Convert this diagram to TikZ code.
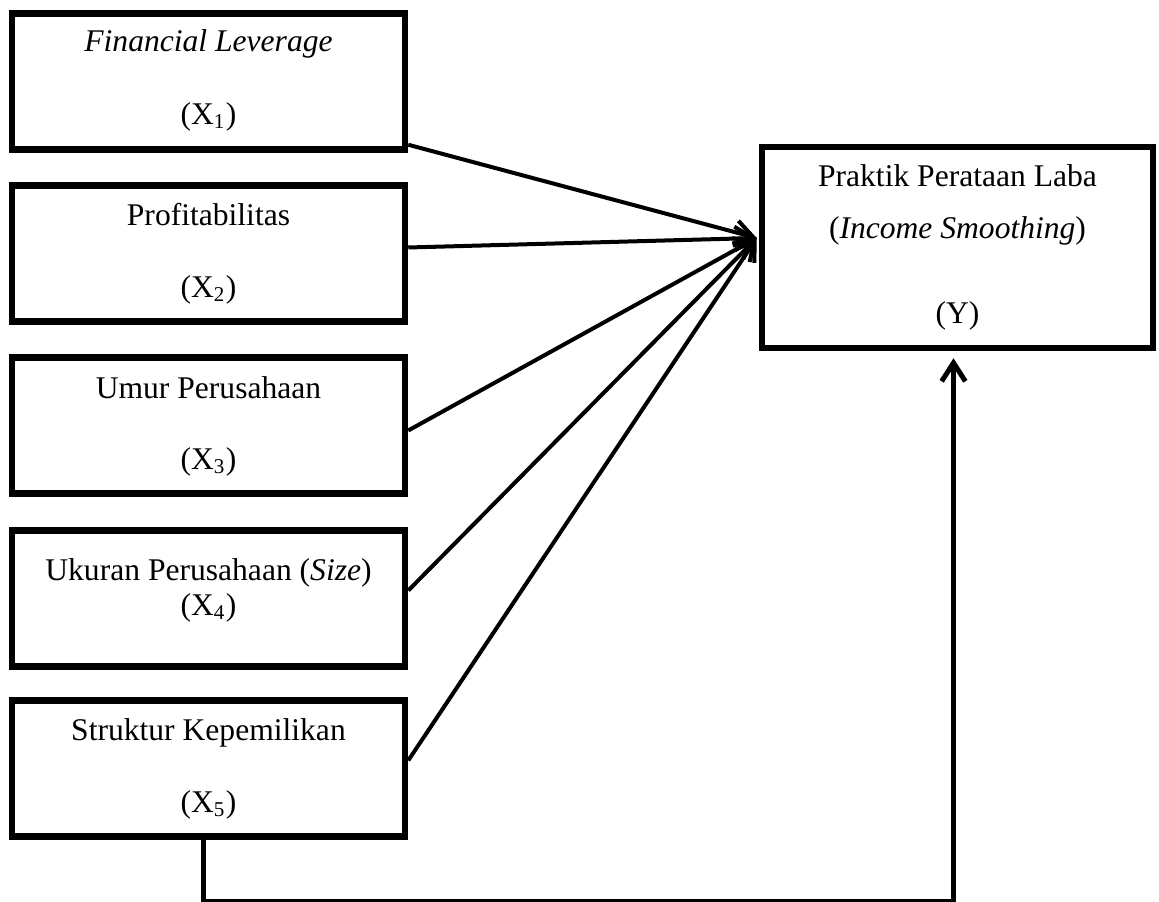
\documentclass[tikz,border=0pt]{standalone}
\usepackage{fontspec}
\setmainfont{Liberation Serif}
\usetikzlibrary{arrows.meta,calc,positioning}

\tikzset{
  varbox/.style={draw, line width=6.5*0.38pt, minimum width=393*0.38pt,
    minimum height=136*0.38pt, inner sep=0pt},
  laba box/.style={varbox, minimum width=391*0.38pt, minimum height=201*0.38pt},
  boxtext/.style={anchor=base, inner sep=0pt, font=\fontsize{12}{14}\selectfont},
  link/.style={line width=4*0.38pt, -{Straight Barb[length=7pt,width=9pt]}},
}

\begin{document}
\begin{tikzpicture}[x=0.38pt, y=-0.38pt]
\useasboundingbox (0,0) rectangle (1159,902);

% variabel independen
\node[varbox] (fl) at (208.5,81.5) {};
\node[varbox] (prof) at (208.5,253.5) {};
\node[varbox] (umur) at (208.5,425.5) {};
\node[varbox] (ukuran) at (208.5,598.5) {};
\node[varbox] (struktur) at (208.5,768.5) {};

% variabel dependen
\node[laba box] (laba) at (957.5,247.5) {};

\node[boxtext] (fl-t) at ($(fl.north)+(0,41)$) {\textit{Financial Leverage}};
\node[boxtext] (fl-x) at ($(fl.north)+(0,114)$) {(X\textsubscript{1})};
\node[boxtext] (prof-t) at ($(prof.north)+(0,43)$) {Profitabilitas};
\node[boxtext] (prof-x) at ($(prof.north)+(0,115)$) {(X\textsubscript{2})};
\node[boxtext] (umur-t) at ($(umur.north)+(0,44)$) {Umur Perusahaan};
\node[boxtext] (umur-x) at ($(umur.north)+(0,115)$) {(X\textsubscript{3})};
\node[boxtext] (ukuran-t) at ($(ukuran.north)+(0,53)$) {Ukuran Perusahaan (\textit{Size})};
\node[boxtext] (ukuran-x) at ($(ukuran.north)+(0,88)$) {(X\textsubscript{4})};
\node[boxtext] (struktur-t) at ($(struktur.north)+(0,43)$) {Struktur Kepemilikan};
\node[boxtext] (struktur-x) at ($(struktur.north)+(0,115)$) {(X\textsubscript{5})};

\node[boxtext] (laba-t) at ($(laba.north)+(0,43)$) {Praktik Perataan Laba};
\node[boxtext] (laba-i) at ($(laba.north)+(0,95)$) {(\textit{Income Smoothing})};
\node[boxtext] (laba-y) at ($(laba.north)+(0,180)$) {(Y)};

\coordinate (tip) at ($(laba.west)+(-2,-9.5)$);
\coordinate (up) at ($(laba.south)+(-4,7)$);

\draw[link] ($(fl.south east)+(0,-8)$) -- (tip);
\draw[link] ($(prof.east)+(0,-6)$) -- (tip);
\draw[link] ($(umur.east)+(0,5)$) -- (tip);
\draw[link] ($(ukuran.east)+(0,-8)$) -- (tip);
\draw[link] ($(struktur.east)+(0,-8)$) -- (tip);

\draw[link, line width=5*0.38pt] ($(struktur.south)+(-5,0)$) -- ++(0,62) -| (up);
\end{tikzpicture}
\end{document}
